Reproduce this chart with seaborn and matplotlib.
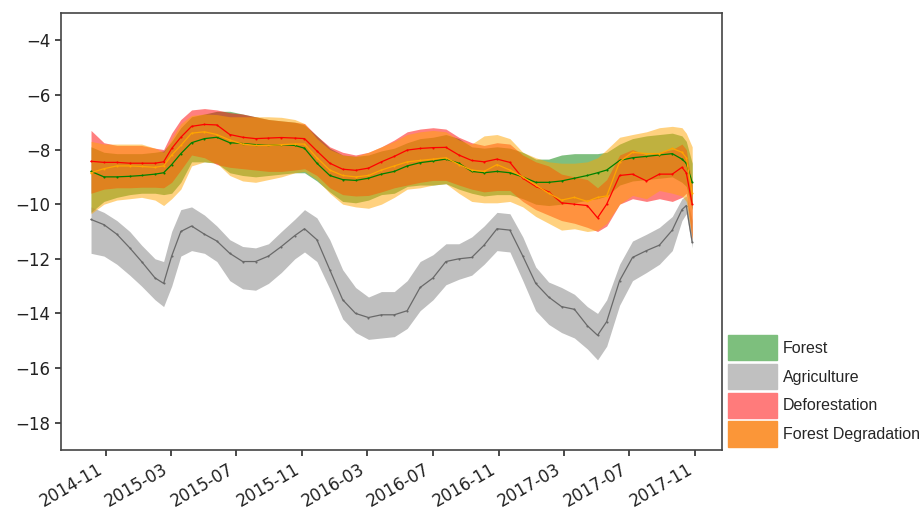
import matplotlib
matplotlib.use("Agg")
import matplotlib.pyplot as plt
import matplotlib.dates as mdates
from matplotlib.patches import Patch
import numpy as np
import pandas as pd
import seaborn as sns

dates = ["2014-10-04", "2014-10-28", "2014-11-21", "2014-12-15", "2015-01-06", "2015-01-31",
         "2015-02-16", "2015-03-03", "2015-03-20", "2015-04-09", "2015-05-03", "2015-05-26",
         "2015-06-19", "2015-07-13", "2015-08-06", "2015-08-30", "2015-09-23", "2015-10-18",
         "2015-11-05", "2015-11-28", "2015-12-22", "2016-01-15", "2016-02-08", "2016-03-03",
         "2016-03-27", "2016-04-20", "2016-05-14", "2016-06-07", "2016-07-01", "2016-07-25",
         "2016-08-18", "2016-09-11", "2016-10-04", "2016-10-28", "2016-11-21", "2016-12-15",
         "2017-01-08", "2017-02-01", "2017-02-25", "2017-03-21", "2017-04-14", "2017-05-03",
         "2017-05-20", "2017-06-13", "2017-07-07", "2017-08-02", "2017-08-26", "2017-09-19",
         "2017-10-07", "2017-10-15", "2017-10-26"]

forest_mean = [-8.8, -9.0, -9.0, -8.98, -8.95, -8.9, -8.85, -8.55, -8.15, -7.75, -7.6, -7.55, -7.75,
               -7.78, -7.82, -7.85, -7.82, -7.85, -7.95, -8.5, -8.95, -9.1, -9.13, -9.05, -8.9, -8.8,
               -8.6, -8.48, -8.42, -8.35, -8.5, -8.8, -8.85, -8.8, -8.85, -9.0, -9.2, -9.2, -9.15,
               -9.05, -8.95, -8.85, -8.75, -8.4, -8.3, -8.25, -8.2, -8.15, -8.35, -8.5, -9.2]
forest_upper = [-7.9, -8.1, -8.15, -8.15, -8.15, -8.1, -8.05, -7.7, -7.2, -6.8, -6.7, -6.6, -6.6,
                -6.7, -6.8, -6.9, -6.95, -7.0, -7.1, -7.5, -7.95, -8.2, -8.25, -8.2, -8.05, -7.95,
                -7.75, -7.6, -7.55, -7.45, -7.6, -7.9, -7.95, -7.9, -7.95, -8.1, -8.35, -8.35, -8.2,
                -8.15, -8.15, -8.15, -8.1, -7.8, -7.6, -7.5, -7.45, -7.4, -7.5, -7.7, -8.5]
forest_lower = [-10.3, -9.9, -9.75, -9.65, -9.6, -9.6, -9.65, -9.6, -9.2, -8.45, -8.45, -8.5, -8.85,
                -8.95, -9.0, -8.95, -8.9, -8.85, -8.85, -9.15, -9.55, -9.9, -9.95, -9.85, -9.65, -9.6,
                -9.35, -9.3, -9.3, -9.25, -9.45, -9.6, -9.7, -9.65, -9.65, -9.8, -10.0, -10.05, -10.0,
                -9.95, -9.85, -9.8, -9.7, -9.3, -9.15, -9.1, -9.05, -9.0, -9.2, -9.35, -10.2]

agri_mean = [-10.56, -10.75, -11.1, -11.6, -12.1, -12.7, -12.9, -11.9, -11.0, -10.8, -11.1, -11.35,
             -11.8, -12.1, -12.1, -11.9, -11.55, -11.15, -10.9, -11.3, -12.4, -13.5, -14.0, -14.15,
             -14.05, -14.05, -13.9, -13.05, -12.7, -12.1, -12.0, -11.95, -11.5, -10.9, -10.95, -11.9,
             -12.9, -13.4, -13.75, -13.85, -14.45, -14.8, -14.3, -12.8, -11.95, -11.7, -11.5, -10.95,
             -10.2, -10.05, -11.4]
agri_upper = [-10.1, -10.3, -10.6, -11.0, -11.5, -12.0, -12.1, -11.0, -10.2, -10.1, -10.4, -10.8,
              -11.3, -11.55, -11.6, -11.45, -11.0, -10.55, -10.2, -10.5, -11.3, -12.4, -13.05, -13.4,
              -13.2, -13.2, -12.8, -12.1, -11.85, -11.45, -11.45, -11.2, -10.8, -10.3, -10.35, -11.2,
              -12.3, -12.85, -13.05, -13.3, -13.75, -14.0, -13.5, -12.2, -11.35, -11.1, -10.85,
              -10.45, -9.8, -9.7, -10.6]
agri_lower = [-11.8, -11.9, -12.2, -12.6, -13.0, -13.5, -13.75, -13.0, -11.9, -11.7, -11.8, -12.1,
              -12.8, -13.1, -13.15, -12.9, -12.5, -12.0, -11.75, -12.1, -13.1, -14.2, -14.7, -14.95,
              -14.9, -14.85, -14.55, -13.9, -13.5, -12.95, -12.75, -12.6, -12.2, -11.7, -11.75, -12.8,
              -13.9, -14.4, -14.7, -14.9, -15.3, -15.7, -15.2, -13.7, -12.8, -12.5, -12.2, -11.7,
              -10.6, -10.35, -11.6]

defor_mean = [-8.43, -8.47, -8.47, -8.5, -8.5, -8.5, -8.45, -7.96, -7.55, -7.15, -7.08, -7.1, -7.45,
              -7.55, -7.6, -7.58, -7.56, -7.58, -7.6, -8.05, -8.5, -8.72, -8.76, -8.68, -8.45, -8.25,
              -8.02, -7.96, -7.93, -7.92, -8.2, -8.4, -8.45, -8.35, -8.47, -9.05, -9.35, -9.55, -9.95,
              -10.0, -10.05, -10.5, -10.0, -8.95, -8.9, -9.15, -8.9, -8.9, -8.65, -8.85, -10.0]
defor_upper = [-7.3, -7.75, -7.85, -7.85, -7.85, -7.95, -8.0, -7.4, -6.9, -6.55, -6.5, -6.55, -6.65,
               -6.7, -6.8, -6.9, -6.95, -7.0, -7.05, -7.5, -7.9, -8.1, -8.2, -8.1, -7.9, -7.65,
               -7.35, -7.25, -7.2, -7.25, -7.55, -7.75, -7.85, -7.75, -7.8, -8.2, -8.45, -8.6, -8.9,
               -9.0, -9.1, -9.4, -9.1, -8.2, -8.0, -8.2, -8.1, -8.0, -7.8, -8.0, -9.3]
defor_lower = [-9.6, -9.45, -9.4, -9.4, -9.38, -9.38, -9.4, -9.2, -8.75, -8.2, -8.3, -8.55, -8.65,
               -8.7, -8.75, -8.8, -8.8, -8.75, -8.7, -8.95, -9.4, -9.65, -9.7, -9.68, -9.55, -9.4,
               -9.3, -9.2, -9.13, -9.13, -9.3, -9.45, -9.55, -9.5, -9.5, -9.9, -10.2, -10.4, -10.6,
               -10.7, -10.85, -11.0, -10.8, -10.0, -9.8, -9.9, -9.8, -9.9, -9.75, -9.6, -11.3]

degr_mean = [-8.85, -8.7, -8.6, -8.6, -8.62, -8.65, -8.6, -8.2, -7.85, -7.4, -7.35, -7.45, -7.65,
             -7.8, -7.85, -7.85, -7.82, -7.8, -7.8, -8.3, -8.75, -8.95, -9.0, -8.95, -8.75, -8.6,
             -8.45, -8.4, -8.35, -8.3, -8.55, -8.75, -8.8, -8.55, -8.75, -9.0, -9.3, -9.6, -9.85,
             -9.75, -9.9, -9.75, -9.7, -8.45, -8.1, -8.15, -8.15, -7.96, -8.1, -8.3, -9.6]
degr_upper = [-7.7, -7.8, -7.8, -7.8, -7.8, -7.95, -8.1, -7.6, -7.05, -6.75, -6.7, -6.72, -6.8,
              -6.8, -6.8, -6.8, -6.82, -6.9, -7.05, -7.6, -8.0, -8.2, -8.25, -8.1, -7.9, -7.7,
              -7.45, -7.35, -7.3, -7.35, -7.65, -7.8, -7.5, -7.45, -7.6, -8.1, -8.3, -8.45, -8.5,
              -8.5, -8.45, -8.3, -8.0, -7.55, -7.45, -7.35, -7.2, -7.15, -7.2, -7.4, -7.9]
degr_lower = [-10.35, -10.0, -9.85, -9.8, -9.75, -9.85, -10.05, -9.8, -9.45, -8.6, -8.45, -8.5,
              -8.95, -9.15, -9.2, -9.1, -9.0, -8.85, -8.8, -9.1, -9.6, -10.0, -10.1, -10.15, -10.0,
              -9.75, -9.45, -9.4, -9.3, -9.25, -9.6, -9.9, -9.95, -9.95, -9.9, -10.1, -10.45, -10.7,
              -10.95, -10.9, -11.0, -10.95, -10.7, -10.0, -9.68, -9.8, -9.5, -9.6, -9.7, -9.9, -11.3]

classes = ["Forest", "Agriculture", "Deforestation", "Forest Degradation"]
means = [forest_mean, agri_mean, defor_mean, degr_mean]
uppers = [forest_upper, agri_upper, defor_upper, degr_upper]
lowers = [forest_lower, agri_lower, defor_lower, degr_lower]
fill_colors = ["green", "gray", "red", "orange"]
line_colors = ["green", "dimgray", "red", "orange"]
legend_colors = ["#7dbf7d", "#c0c0c0", "#ff7b7b", "#fb9638"]

sns.set_theme(style="ticks")
plt.rcParams["font.family"] = ["DejaVu Sans"]

fig = plt.figure(figsize=(9.21, 5.17), dpi=100)
ax = fig.add_axes([0.0662, 0.1296, 0.7180, 0.8453])

x = pd.to_datetime(dates)
for name, m, up, lo, fc, lc in zip(classes, means, uppers, lowers, fill_colors, line_colors):
    ax.fill_between(x, lo, up, color=fc, alpha=0.5, linewidth=0)
    df = pd.DataFrame({"date": x, "value": m})
    sns.lineplot(data=df, x="date", y="value", color=lc, linewidth=0.9,
                 marker=".", markersize=3, markeredgewidth=0, ax=ax, legend=False)

ax.set_ylim(-19, -3)
ax.set_yticks(np.arange(-18, -3, 2))
ax.set_xticks(pd.date_range("2014-11-01", "2017-11-01", freq="4MS"))
ax.xaxis.set_major_formatter(mdates.DateFormatter("%Y-%m"))
ax.set_xlabel("")
ax.set_ylabel("")
ax.tick_params(axis="both", labelsize=12, colors="#333333", labelcolor="#222222", length=4)
for lab in ax.get_xticklabels():
    lab.set_rotation(30)
    lab.set_ha("right")
for sp in ax.spines.values():
    sp.set_visible(True)
    sp.set_color("#444444")
    sp.set_linewidth(1.2)

handles = [Patch(facecolor=c, edgecolor=c, label=n) for n, c in zip(classes, legend_colors)]
leg = ax.legend(handles=handles, loc="lower left", bbox_to_anchor=(1.008, 0.008),
                frameon=False, borderaxespad=0, borderpad=0.0,
                handlelength=3.1, handleheight=2.05, handletextpad=0.35, labelspacing=0.22,
                prop={"family": "Liberation Sans", "size": 11.5})

fig.savefig("out.png", dpi=100)
